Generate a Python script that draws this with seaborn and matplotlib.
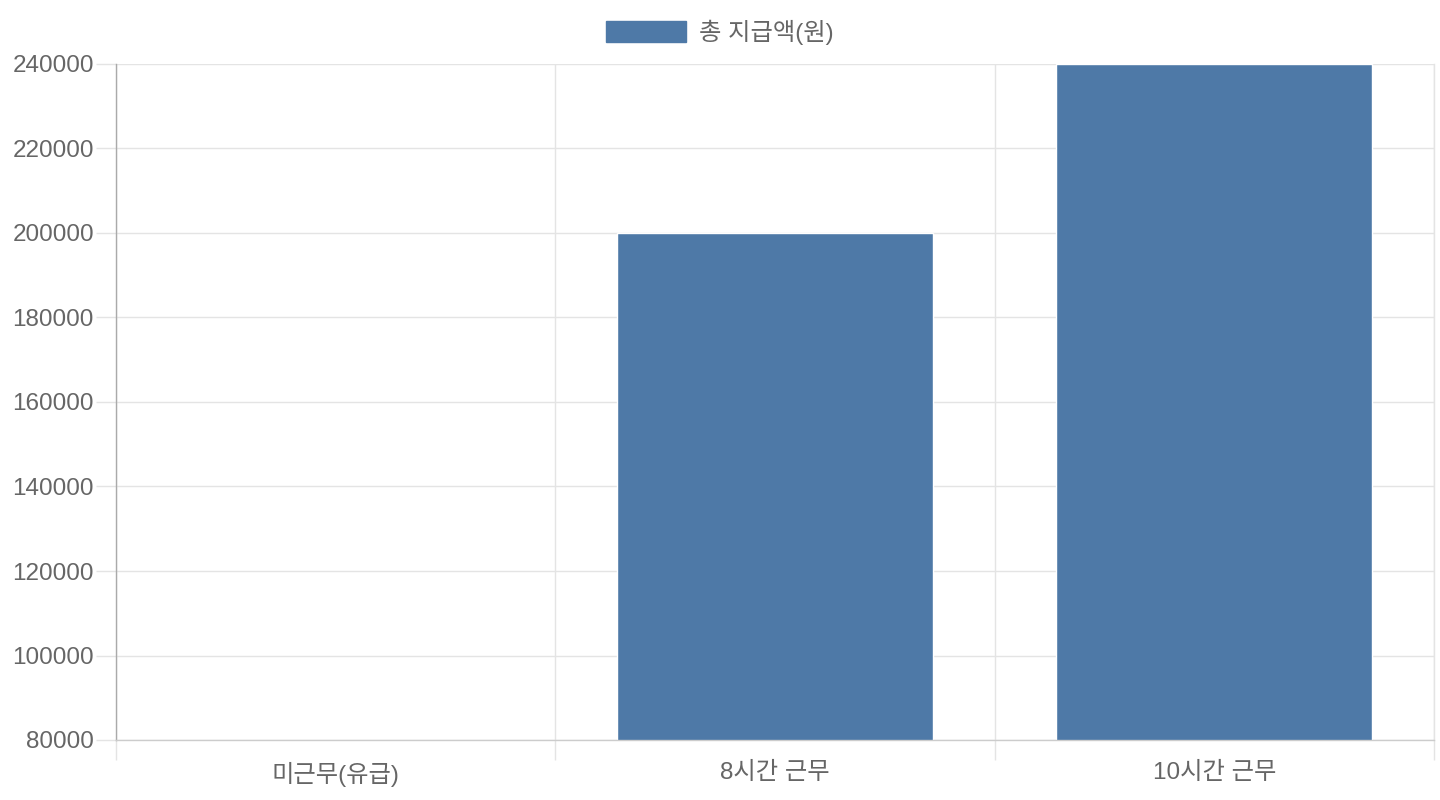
import matplotlib
matplotlib.use("Agg")
import matplotlib.pyplot as plt
from matplotlib.patches import Patch
import seaborn as sns
import pandas as pd
import numpy as np

# ---- data ----
categories = ["미근무(유급)", "8시간 근무", "10시간 근무"]
values = [80000, 200000, 240000]
series_label = "총 지급액(원)"
y_ticks = [80000, 100000, 120000, 140000, 160000, 180000, 200000, 220000, 240000]

df = pd.DataFrame({"category": categories, "value": values})

sns.set_theme(style="white")
plt.rcParams["font.family"] = ["Liberation Sans", "Noto Sans CJK KR", "DejaVu Sans"]

TEXT = "#666666"
GRID = "#e4e4e4"
BAR = "#4e79a7"
W, H = 1440, 800
FS = 17.5

fig = plt.figure(figsize=(14.4, 8), dpi=100)
ax = fig.add_axes([116 / W, 60 / H, 1318 / W, 676 / H])

sns.barplot(data=df, x="category", y="value", color=BAR, saturation=1,
            width=0.72, ax=ax, order=categories)

ax.set_xlim(-0.5, len(categories) - 0.5)
ax.set_ylim(y_ticks[0], y_ticks[-1])
ax.set_yticks(y_ticks)
ax.set_yticklabels([str(v) for v in y_ticks])
ax.set_xlabel("")
ax.set_ylabel("")

# grid
ax.set_axisbelow(True)
ax.yaxis.grid(True, color=GRID, lw=1)
ax.set_xticks(np.arange(-0.5, len(categories), 1.0), minor=True)
ax.xaxis.grid(True, which="minor", color=GRID, lw=1)
ax.xaxis.grid(False, which="major")

ax.tick_params(axis="x", which="minor", length=14.4, width=1, color=GRID, bottom=True)
ax.tick_params(axis="x", which="major", length=0, pad=15.5, labelsize=FS, labelcolor=TEXT)
ax.tick_params(axis="y", which="major", length=14.4, width=1, color=GRID, pad=1.5,
               labelsize=FS, labelcolor=TEXT, left=True)

ax.spines["top"].set_visible(False)
ax.spines["right"].set_color(GRID)
ax.spines["right"].set_linewidth(1)
ax.spines["left"].set_color("#aaaaaa")
ax.spines["left"].set_linewidth(1)
ax.spines["bottom"].set_color("#cccccc")
ax.spines["bottom"].set_linewidth(1)

fs_px = FS / 72 * 100
leg = fig.legend(handles=[Patch(facecolor=BAR, edgecolor=BAR, label=series_label)],
                 loc="center", bbox_to_anchor=(720 / W, 1 - 32 / H),
                 frameon=False, fontsize=FS, labelcolor=TEXT,
                 handlelength=80 / fs_px, handleheight=24 / fs_px,
                 handletextpad=13 / fs_px, borderpad=0, borderaxespad=0)

fig.savefig("out.png", dpi=100)
